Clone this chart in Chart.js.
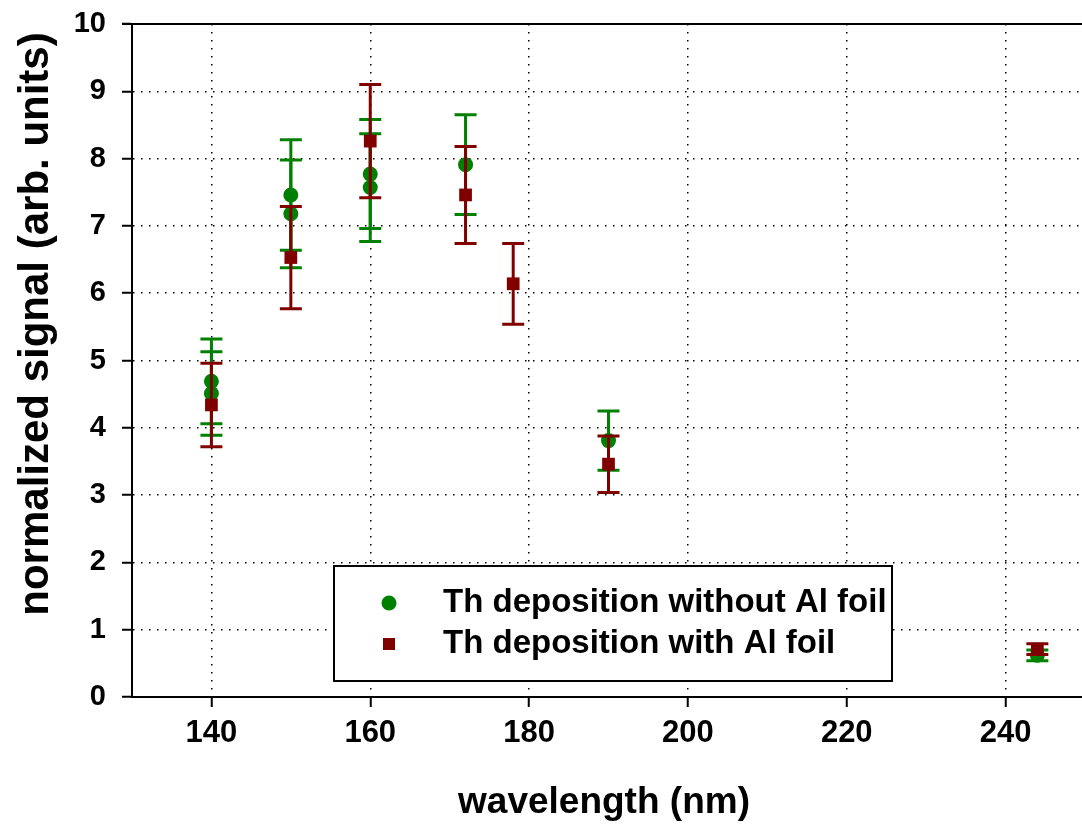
<!DOCTYPE html>
<html>
<head>
<meta charset="utf-8">
<script src="https://cdn.jsdelivr.net/npm/chart.js@4"></script>
<style>
  html, body { margin: 0; padding: 0; background: #fff; overflow: hidden; }
  #wrap { width: 1094px; height: 825px; }
</style>
</head>
<body>
<div id="wrap"><canvas id="chart" width="1094" height="825"></canvas></div>
<script>
// Th deposition without Al foil
const greenX = [140, 140, 150, 150, 160, 160, 172, 190, 244];
const greenY = [4.69, 4.51, 7.46, 7.18, 7.77, 7.57, 7.91, 3.81, 0.62];
const greenErr = [0.63, 0.62, 0.82, 0.80, 0.81, 0.80, 0.74, 0.44, 0.08];

// Th deposition with Al foil
const redX = [140, 150, 160, 172, 178, 190, 244];
const redY = [4.34, 6.53, 8.26, 7.46, 6.14, 3.46, 0.71];
const redErr = [0.62, 0.76, 0.84, 0.72, 0.60, 0.42, 0.08];

const seriesLabels = ['Th deposition without Al foil', 'Th deposition with Al foil'];
const xTicks = [140, 160, 180, 200, 220, 240];
const yTicks = [0, 1, 2, 3, 4, 5, 6, 7, 8, 9, 10];
const xTitle = 'wavelength (nm)';
const yTitle = 'normalized signal (arb. units)';

const GREEN = '#008000';
const RED = '#800000';
const FONT = "'Liberation Sans', Arial, sans-serif";

const toPoints = (xs, ys) => xs.map((x, i) => ({ x: x, y: ys[i] }));

// error bars drawn right before each dataset's markers
const errorBars = {
    id: 'errorBars',
    beforeDatasetDraw(chart, args) {
        const ds = chart.data.datasets[args.index];
        if (!ds.errors) return;
        const ctx = chart.ctx;
        const xs = chart.scales.x, ys = chart.scales.y;
        ctx.save();
        ctx.strokeStyle = ds.borderColor;
        ctx.lineWidth = 3;
        ds.data.forEach((p, i) => {
            const px = xs.getPixelForValue(p.x);
            const top = ys.getPixelForValue(p.y + ds.errors[i]);
            const bot = ys.getPixelForValue(p.y - ds.errors[i]);
            ctx.beginPath();
            ctx.moveTo(px, top); ctx.lineTo(px, bot);
            ctx.moveTo(px - 11, top); ctx.lineTo(px + 11, top);
            ctx.moveTo(px - 11, bot); ctx.lineTo(px + 11, bot);
            ctx.stroke();
        });
        ctx.restore();
    }
};

// top frame line, axis titles and the boxed legend inside the plot
const frameAndLegend = {
    id: 'frameAndLegend',
    afterDraw(chart) {
        const ctx = chart.ctx;
        const a = chart.chartArea;
        ctx.save();
        ctx.strokeStyle = '#000';
        ctx.lineWidth = 2;
        ctx.beginPath();
        ctx.moveTo(a.left - 10, a.top);
        ctx.lineTo(a.right, a.top);
        ctx.stroke();

        ctx.fillStyle = '#000';
        ctx.textAlign = 'center';
        ctx.textBaseline = 'middle';
        ctx.font = 'bold 37px ' + FONT;
        ctx.fillText(xTitle, 604, 803);

        // y axis title, sits a bit above the axis middle like the original
        ctx.save();
        ctx.translate(36, 324);
        ctx.rotate(-Math.PI / 2);
        ctx.font = 'bold 42px ' + FONT;
        ctx.fillText(yTitle, 0, 0);
        ctx.restore();

        const bx = a.left + 202, by = a.bottom - 131, bw = 558, bh = 115;
        ctx.fillStyle = '#fff';
        ctx.fillRect(bx, by, bw, bh);
        ctx.strokeRect(bx, by, bw, bh);

        const rows = [by + 37, by + 78];
        ctx.fillStyle = GREEN;
        ctx.beginPath();
        ctx.arc(bx + 55, rows[0], 7.5, 0, Math.PI * 2);
        ctx.fill();
        ctx.fillStyle = RED;
        ctx.fillRect(bx + 49, rows[1] - 6, 12, 12);

        ctx.fillStyle = '#000';
        ctx.font = 'bold 33px ' + FONT;
        ctx.textAlign = 'left';
        seriesLabels.forEach((t, i) => ctx.fillText(t, bx + 109, rows[i]));
        ctx.restore();
    }
};

const ctx = document.getElementById('chart').getContext('2d');
new Chart(ctx, {
    type: 'scatter',
    data: {
        datasets: [{
            label: seriesLabels[0],
            data: toPoints(greenX, greenY),
            errors: greenErr,
            backgroundColor: GREEN,
            borderColor: GREEN,
            pointStyle: 'circle',
            pointRadius: 7.5,
            pointBorderWidth: 0,
            order: 1
        }, {
            label: seriesLabels[1],
            data: toPoints(redX, redY),
            errors: redErr,
            backgroundColor: RED,
            borderColor: RED,
            pointStyle: 'rect',
            pointRadius: 9,
            pointBorderWidth: 0,
            order: 0
        }]
    },
    options: {
        responsive: false,
        animation: false,
        layout: { padding: { left: 0, top: 24, right: 2, bottom: 0 } },
        plugins: {
            legend: { display: false },
            tooltip: { enabled: false }
        },
        scales: {
            x: {
                type: 'linear',
                min: 130,
                max: 250,
                afterBuildTicks: (s) => { s.ticks = xTicks.map(v => ({ value: v })); },
                afterFit: (s) => { s.height = 128; s.paddingLeft = 0; s.paddingRight = 0; },
                border: { display: true, color: '#000', width: 2, dash: [1.5, 6.5] },
                grid: {
                    color: '#000',
                    lineWidth: 1.5,
                    tickColor: '#000',
                    tickWidth: 2,
                    tickLength: 10
                },
                ticks: {
                    color: '#000',
                    padding: 8,
                    font: { family: FONT, size: 31, weight: 'bold' }
                }
            },
            y: {
                type: 'linear',
                min: 0,
                max: 10,
                afterBuildTicks: (s) => { s.ticks = yTicks.map(v => ({ value: v })); },
                afterFit: (s) => { s.width = 132; s.paddingTop = 0; s.paddingBottom = 0; },
                border: { display: true, color: '#000', width: 2, dash: [1.5, 6.5] },
                grid: {
                    color: (c) => (c.tick && (c.tick.value === 0 || c.tick.value === 10)) ? 'rgba(0,0,0,0)' : '#000',
                    lineWidth: 1.5,
                    tickColor: '#000',
                    tickWidth: 2,
                    tickLength: 10
                },
                ticks: {
                    color: '#000',
                    padding: 16,
                    font: { family: FONT, size: 29, weight: 'bold' }
                }
            }
        }
    },
    plugins: [errorBars, frameAndLegend]
});
</script>
</body>
</html>
